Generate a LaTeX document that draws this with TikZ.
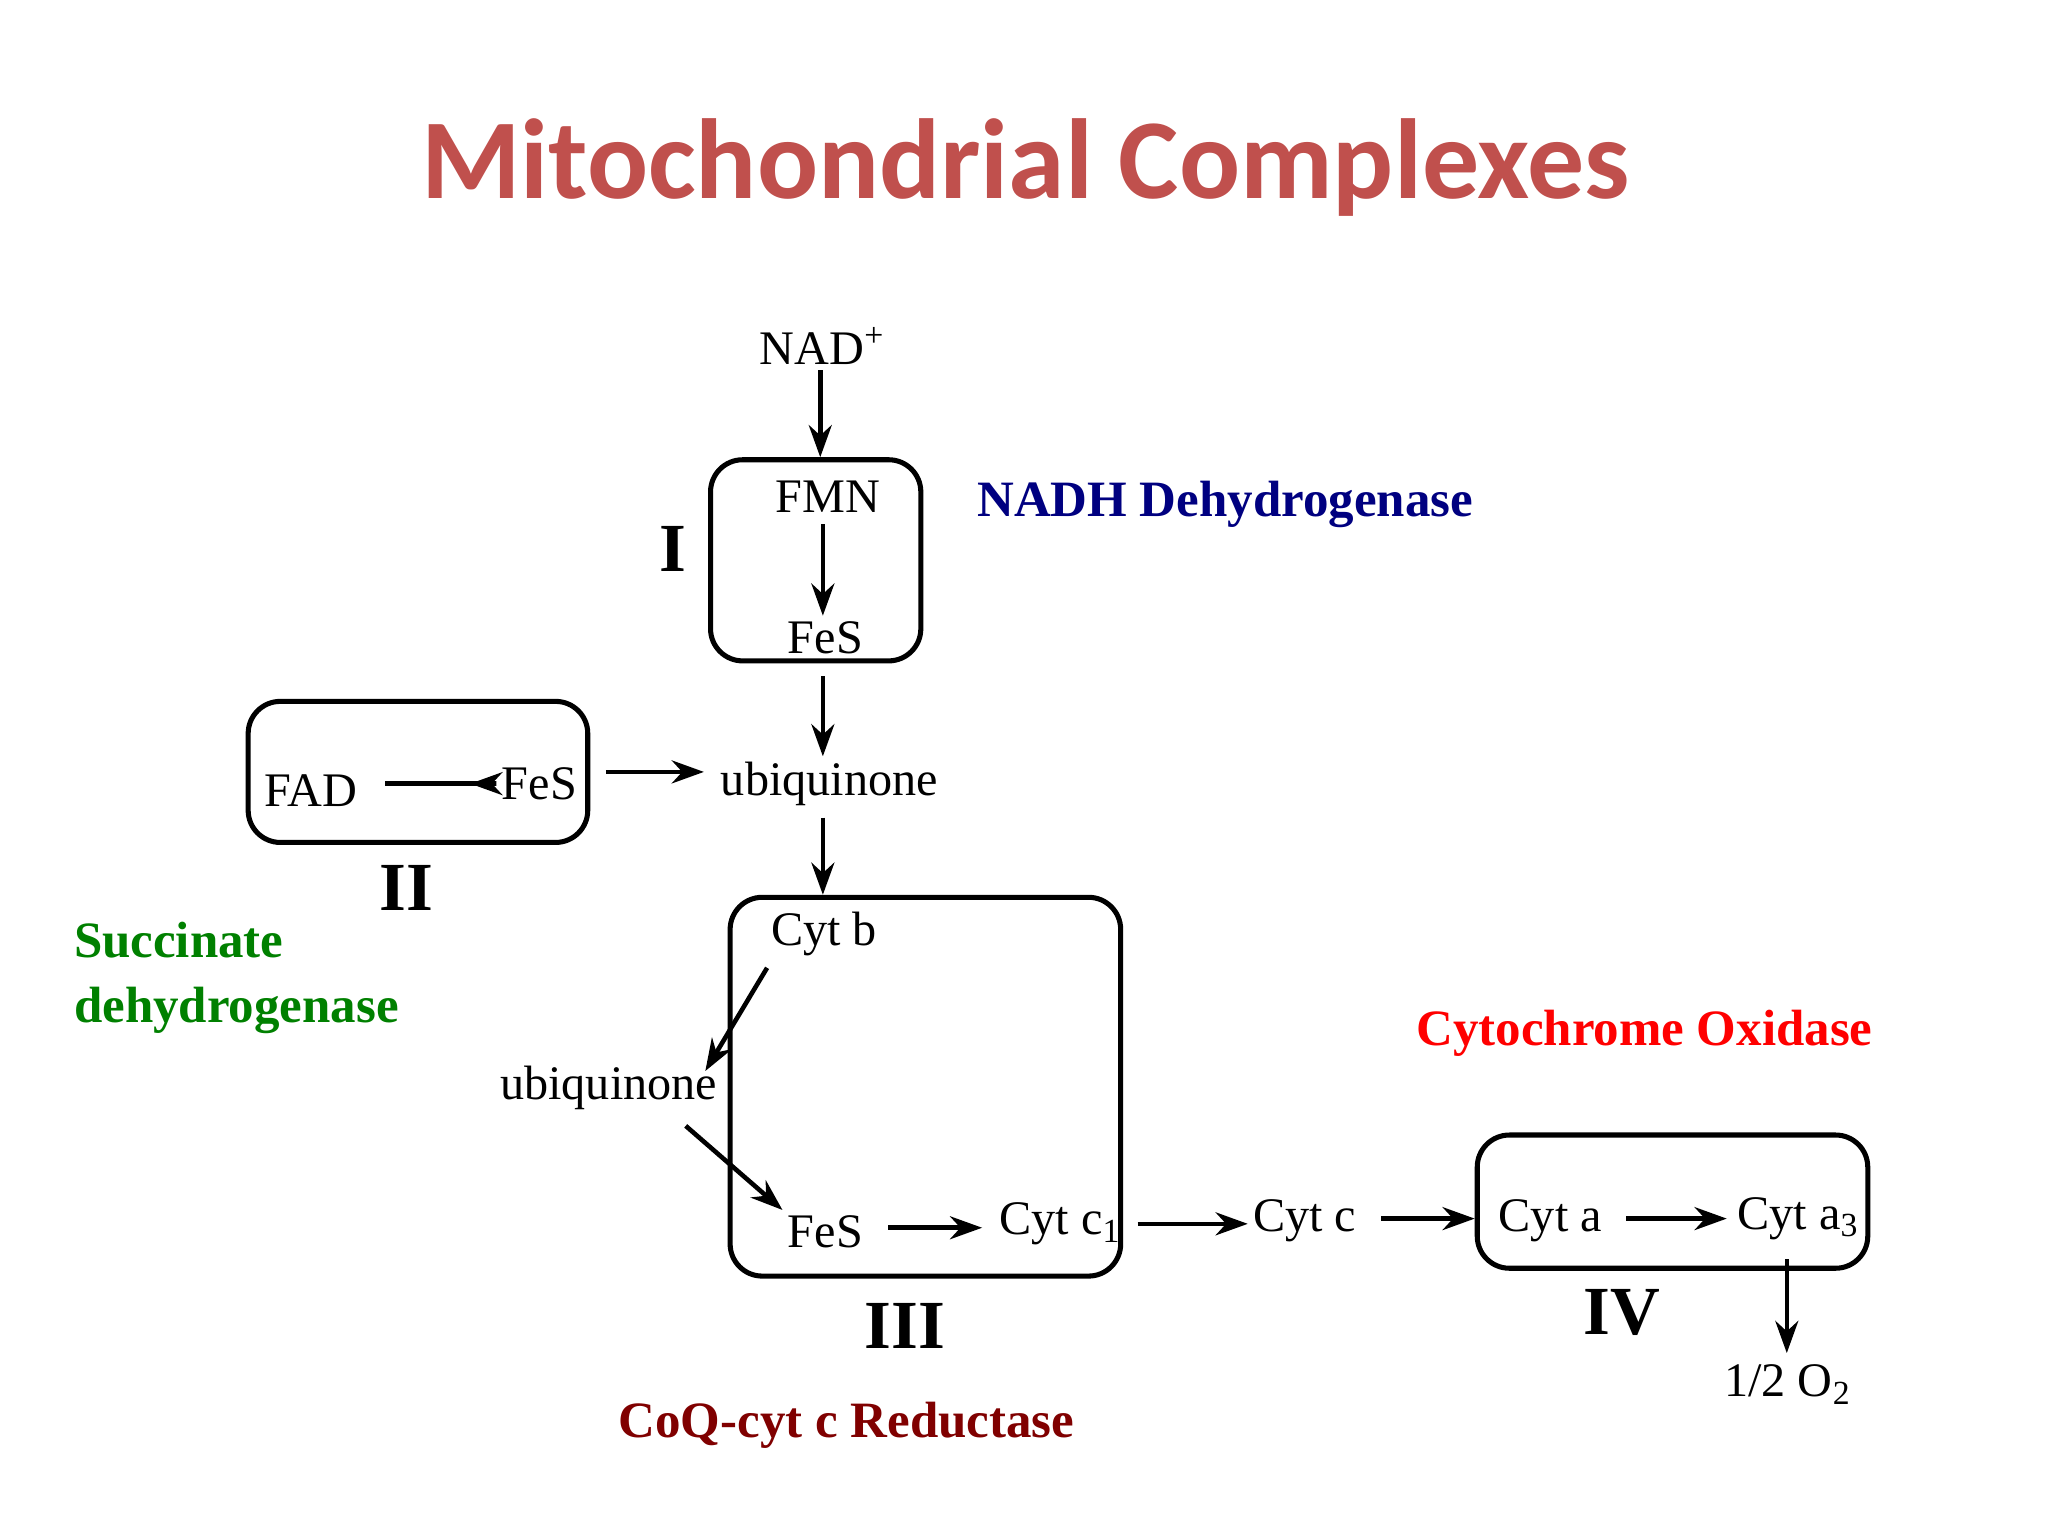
\documentclass[tikz,border=0pt]{standalone}
\usepackage{fontspec}
\setmainfont{Liberation Serif}
\newfontfamily\titlefont{Carlito}
\usetikzlibrary{arrows.meta}
\definecolor{titlered}{RGB}{192,80,77}
\begin{document}
\begin{tikzpicture}[
  box/.style={draw,line width=1.1pt,rounded corners=7pt,inner sep=0pt},
  t/.style={font=\fontsize{10.5}{12}\selectfont,inner sep=1pt},
  roman/.style={font=\fontsize{15}{17}\selectfont\bfseries,inner sep=0pt},
  lab/.style={font=\fontsize{11.1}{13}\selectfont\bfseries,inner sep=0pt},
  ar/.style={line width=1pt,-{Stealth[length=7pt,width=5pt]}}
]
\useasboundingbox (0,0) rectangle (15.68,-11.76);
\node[font=\titlefont\fontsize{24.8}{28}\selectfont\bfseries,text=titlered] (title) at (7.85,-1.28) {Mitochondrial Complexes};
% boxes
\node[box,minimum width=1.61cm,minimum height=1.54cm] (b1) at (6.245,-4.29) {};
\node[box,minimum width=2.60cm,minimum height=1.08cm] (b2) at (3.20,-5.91) {};
\node[box,minimum width=2.99cm,minimum height=2.90cm] (b3) at (7.085,-8.32) {};
\node[box,minimum width=2.99cm,minimum height=1.02cm] (b4) at (12.805,-9.20) {};
% texts
\node[t] (nad) at (6.30,-2.65) {NAD\textsuperscript{+}};
\node[t] (fmn) at (6.34,-3.80) {FMN};
\node[t] (fes1) at (6.32,-4.88) {FeS};
\node[t] (ubq) at (6.35,-6.00) {ubiquinone};
\node[t] (fad) at (2.38,-6.05) {FAD};
\node[t] (fes2) at (4.13,-6.00) {FeS};
\node[t] (cytb) at (6.31,-7.15) {Cyt b};
\node[t] (ubq2) at (4.66,-8.33) {ubiquinone};
\node[t] (fes3) at (6.32,-9.43) {FeS};
\node[t] (cytc1) at (8.12,-9.37) {Cyt c\textsubscript{1}};
\node[t] (cytc) at (9.99,-9.35) {Cyt c};
\node[t] (cyta) at (11.87,-9.35) {Cyt a};
\node[t] (cyta3) at (13.77,-9.33) {Cyt a\textsubscript{3}};
\node[t] (o2) at (13.69,-10.60) {1/2 O\textsubscript{2}};
% roman
\node[roman] (r1) at (5.15,-4.20) {I};
\node[roman] (r2) at (3.11,-6.80) {II};
\node[roman] (r3) at (6.93,-10.15) {III};
\node[roman] (r4) at (12.42,-10.05) {IV};
% labels
\node[lab,text={rgb,255:red,0;green,0;blue,128}] (l1) at (9.38,-3.86) {NADH Dehydrogenase};
\node[lab,text={rgb,255:red,0;green,128;blue,0},align=left,anchor=west,font=\fontsize{11.1}{14.2}\selectfont\bfseries] (l2) at (0.56,-7.49) {Succinate\\dehydrogenase};
\node[lab,text={rgb,255:red,255;green,0;blue,0}] (l4) at (12.59,-7.91) {Cytochrome Oxidase};
\node[lab,text={rgb,255:red,128;green,0;blue,0}] (l3) at (6.48,-10.91) {CoQ-cyt c Reductase};
% arrows
\draw[ar] (nad.south -| b1.north) ++(0.035,0) coordinate (n1) -- (n1 |- b1.north);
\draw[ar] (fmn.south) ++(-0.04,-0.05) coordinate (n2) -- (n2 |- fes1.north);
\draw[ar] (b1.south) ++(0.055,-0.10) coordinate (n3) -- (n3 |- ubq.north);
\draw[ar] (2.95,-6.00) coordinate (n4) -- (fes2.west |- n4) -- ++(-0.2,0);
\draw[ar] (b2.east) ++(0.12,0.00) coordinate (n5) -- ++(0.75,0);
\draw[ar] (ubq.south) ++(-0.05,-0.05) coordinate (n6) -- (n6 |- b3.north);
\draw[ar] (cytb.south west) ++(0.01,-0.05) -- (5.40,-8.20);
\draw[ar] (5.25,-8.62) -- (fes3.north west);
\draw[ar] (fes3.east) ++(0.15,0.03) coordinate (n7) -- ++(0.72,0);
\draw[ar] (8.71,-9.37) coordinate (n8) -- (cytc.west |- n8);
\draw[ar] (cytc.east) ++(0.15,0.02) coordinate (n9) -- (b4.west |- n9);
\draw[ar] (12.45,-9.33) coordinate (n10) -- (13.22,-9.33);
\draw[ar] (b4.south -| o2) ++(-0.01,0.09) coordinate (n11) -- ++(0,-0.72);
\end{tikzpicture}
\end{document}
